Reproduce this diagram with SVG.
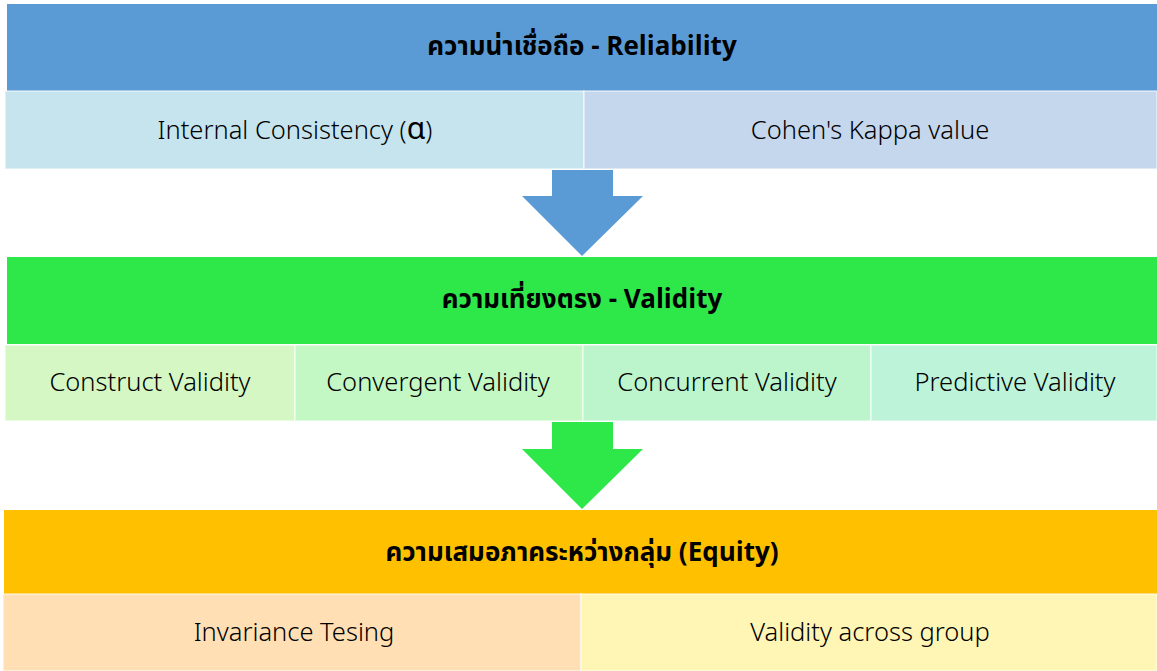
<svg xmlns="http://www.w3.org/2000/svg" width="1157" height="671" viewBox="0 0 1157 671">
<style>
.hdr{font-family:"Noto Sans Thai","Noto Sans","Liberation Sans",sans-serif;font-size:26px;font-weight:bold;fill:#000;text-anchor:middle}
.cell{font-family:"Noto Sans Thai","Noto Sans","Liberation Sans",sans-serif;font-size:25.5px;font-weight:300;fill:#000;text-anchor:middle}
.cb{stroke:#ffffff;stroke-opacity:0.6;stroke-width:1.5}
</style>
<rect x="0" y="0" width="1157" height="671" fill="#ffffff"/>
<g id="reliability">
<rect x="7" y="4" width="1150" height="87" fill="#5B9BD5"/>
<text class="hdr" x="582" y="55">ความน่าเชื่อถือ - Reliability</text>
</g>
<g id="internal-consistency">
<rect class="cb" x="5" y="91" width="579" height="78" fill="#C5E4EE"/>
<text class="cell" x="295" y="139">Internal Consistency (<tspan font-size="30" font-weight="normal">α</tspan>)</text>
</g>
<g id="cohens-kappa">
<rect class="cb" x="584" y="91" width="573" height="78" fill="#C5D7EC"/>
<text class="cell" x="870" y="139">Cohen's Kappa value</text>
</g>
<g id="validity">
<rect x="7" y="257" width="1150" height="87" fill="#2EE84A"/>
<text class="hdr" x="582" y="308">ความเที่ยงตรง - Validity</text>
</g>
<g id="construct-validity">
<rect class="cb" x="5" y="345" width="290" height="76" fill="#D4F7C4"/>
<text class="cell" x="150" y="391">Construct Validity</text>
</g>
<g id="convergent-validity">
<rect class="cb" x="295" y="345" width="288" height="76" fill="#C3F7C3"/>
<text class="cell" x="438" y="391">Convergent Validity</text>
</g>
<g id="concurrent-validity">
<rect class="cb" x="583" y="345" width="288" height="76" fill="#BCF5CC"/>
<text class="cell" x="727" y="391">Concurrent Validity</text>
</g>
<g id="predictive-validity">
<rect class="cb" x="871" y="345" width="286" height="76" fill="#BDF3D9"/>
<text class="cell" x="1015" y="391">Predictive Validity</text>
</g>
<g id="equity">
<rect x="4" y="510" width="1153" height="84" fill="#FFC000"/>
<text class="hdr" x="582" y="561">ความเสมอภาคระหว่างกลุ่ม (Equity)</text>
</g>
<g id="invariance-testing">
<rect class="cb" x="3" y="594" width="578" height="77" fill="#FFDFB3"/>
<text class="cell" x="294" y="641">Invariance Tesing</text>
</g>
<g id="validity-across-group">
<rect class="cb" x="581" y="594" width="576" height="77" fill="#FFF5B5"/>
<text class="cell" x="870" y="641">Validity across group</text>
</g>
<g id="connectors">
<polygon points="552,170 613,170 613,196 643,196 582,256 522,196 552,196" fill="#5B9BD5"/>
<polygon points="552,422 613,422 613,449 643,449 582,509 522,449 552,449" fill="#2EE84A"/>
</g>
</svg>
